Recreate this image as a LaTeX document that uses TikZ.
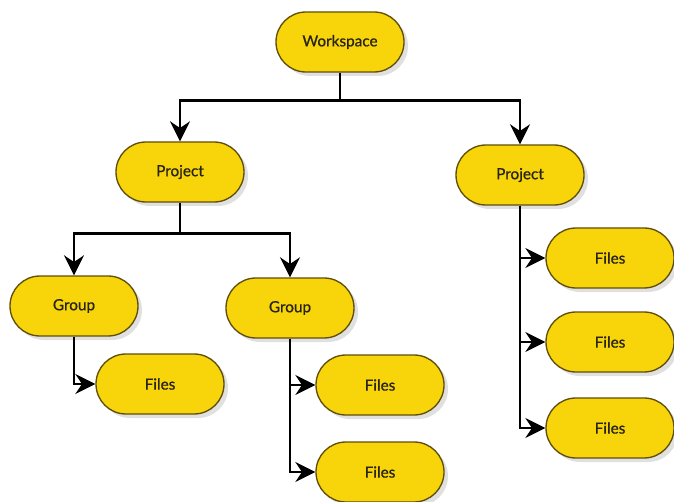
\documentclass[tikz,border=0pt]{standalone}
\usepackage{fontspec}
\setmainfont[FakeBold=0.8]{Lato}
\usepackage{xcolor}
\usetikzlibrary{arrows.meta, positioning, shadows, shapes.misc}
\definecolor{boxyellow}{RGB}{248,212,10}
\definecolor{boxedge}{RGB}{95,78,10}
\definecolor{boxtext}{RGB}{40,36,20}

\begin{document}
\begin{tikzpicture}[x=0.75pt, y=-0.75pt, >={Stealth[length=15pt,width=15pt,inset=5pt]},
  every node/.style={font=\fontsize{11.5}{13}\selectfont},
  box/.style={rounded rectangle, draw=boxedge, line width=1pt, fill=boxyellow,
    text=boxtext, minimum width=96pt, minimum height=45pt, inner sep=0pt,
    drop shadow={shadow xshift=3pt, shadow yshift=-3pt, fill=black!35, opacity=0.35}},
  arr/.style={->, line width=2pt, black}]

\useasboundingbox (0,0) rectangle (674,502);

% top level
\node[box] (ws) at (340,42) {Workspace};

% projects
\node[box] (pl) at (180,172) {Project};
\node[box] (pr) at (520,175) {Project};

% groups
\node[box] (gl) at (74,306) {Group};
\node[box] (gm) at (290,308) {Group};

% files
\node[box] (fl) at (160,384) {Files};
\node[box] (fm1) at (380,385) {Files};
\node[box] (fm2) at (380,472) {Files};
\node[box] (fr1) at (610,258) {Files};
\node[box] (fr2) at (610,342) {Files};
\node[box] (fr3) at (610,428) {Files};

% connectors
\draw[arr] (ws.south) -- ++(0,28) -| (pl);
\draw[arr] (ws.south) -- ++(0,28) -| (pr);

\draw[arr] (pl.south) -- ++(0,31) -| (gl);
\draw[arr] (pl.south) -- ++(0,31) -| (gm);

\draw[arr] (gl.south) |- (fl.west);
\draw[arr] (gm.south) |- (fm1.west);
\draw[arr] (gm.south) |- (fm2.west);

\foreach \f in {fr1,fr2,fr3} {
  \draw[arr] (pr.south) |- (\f.west);
}

\end{tikzpicture}
\end{document}
